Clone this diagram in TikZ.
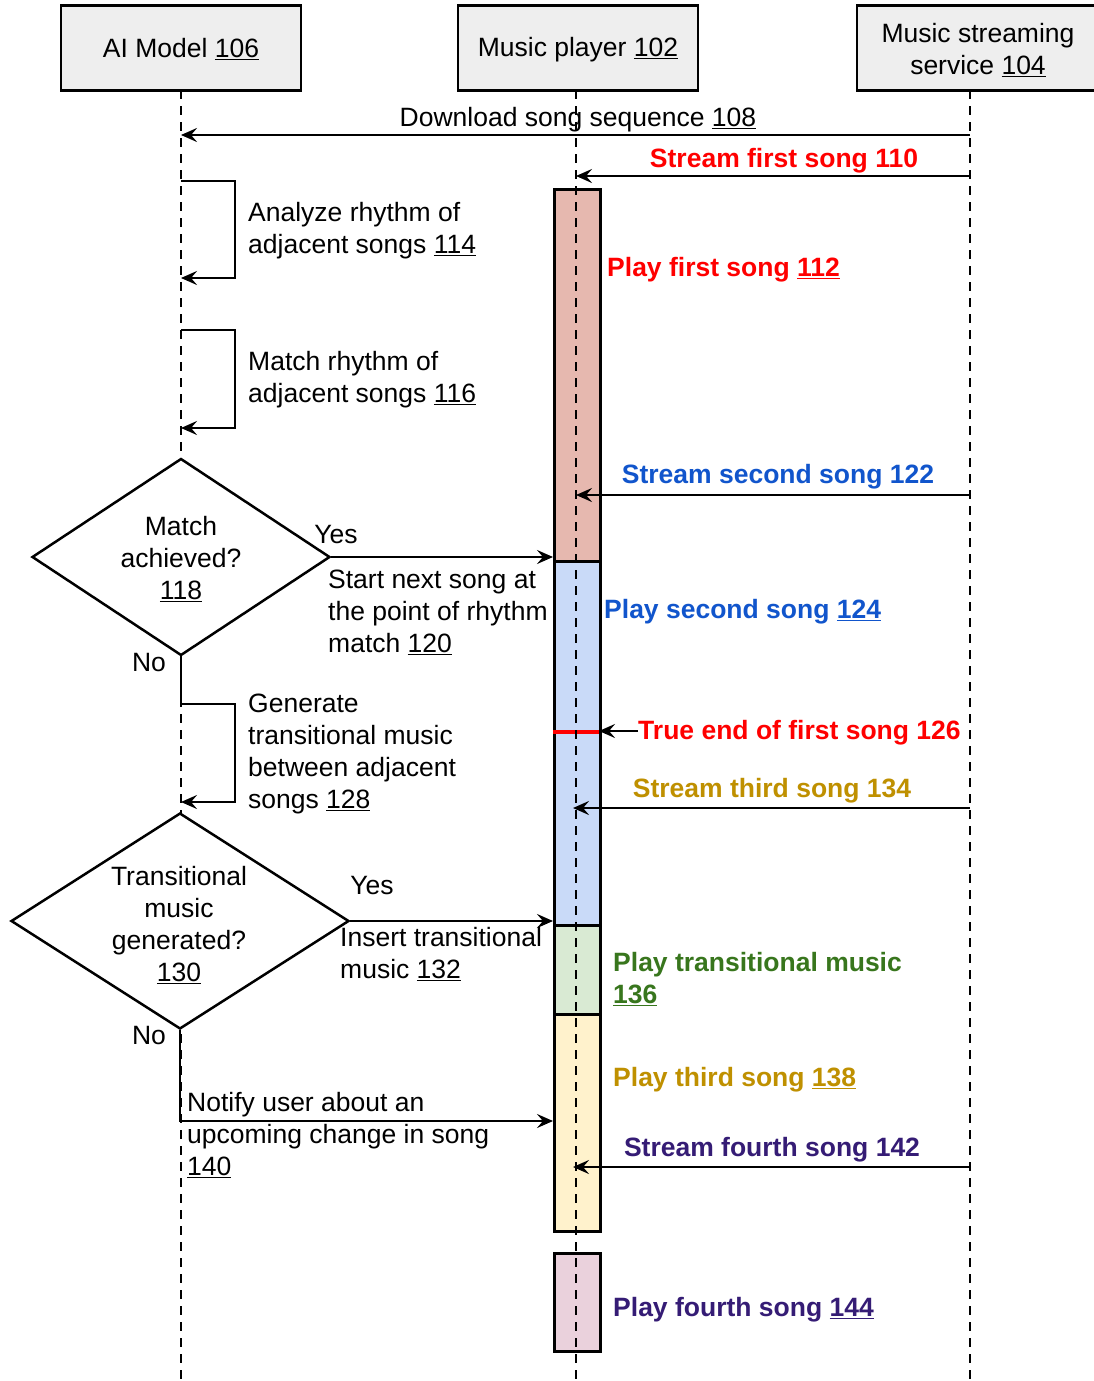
\documentclass[tikz,border=0pt]{standalone}
\usepackage{fontspec}
\setmainfont{Liberation Sans}
\usetikzlibrary{arrows.meta,shapes.geometric}
\definecolor{headgray}{HTML}{EEEEEE}
\definecolor{cred}{HTML}{FF0000}
\definecolor{cblue}{HTML}{1155CC}
\definecolor{cgold}{HTML}{BF9000}
\definecolor{cgreen}{HTML}{38761D}
\definecolor{cpurple}{HTML}{351C75}
\definecolor{barred}{HTML}{E6B8AF}
\definecolor{barblue}{HTML}{C9DAF8}
\definecolor{bargreen}{HTML}{D9EAD3}
\definecolor{baryellow}{HTML}{FFF2CC}
\definecolor{barpink}{HTML}{EAD1DC}
\tikzset{
  head/.style={draw, line width=2.8pt, fill=headgray, minimum width=240, minimum height=85, inner sep=0pt},
  life/.style={line width=2.6pt, dash pattern=on 9pt off 7pt},
  msg/.style={line width=2.6pt, -{Stealth[length=16pt,width=14pt,inset=6pt]}},
  bar/.style={draw, line width=2.5pt},
  dia/.style={diamond, draw, line width=2.5pt, fill=white, inner sep=0pt},
  lbl/.style={inner sep=0pt, align=left, anchor=west},
  clbl/.style={inner sep=0pt, align=center},
  bl/.style={inner sep=0pt, font=\fontsize{26.5pt}{32pt}\selectfont\bfseries},
}
\begin{document}
\begin{tikzpicture}[x=1pt, y=-1pt, font=\fontsize{26.5pt}{32pt}\selectfont]
\clip (0,0) rectangle (1094,1381);
\fill[white] (0,0) rectangle (1094,1381);

% activation bars
\node[bar, fill=barred, minimum width=46, minimum height=372, inner sep=0pt, anchor=north west] (b1) at (553,188) {};
\node[bar, fill=barblue, minimum width=46, minimum height=364, inner sep=0pt, anchor=north west] (b2) at (553,560) {};
\node[bar, fill=bargreen, minimum width=46, minimum height=89, inner sep=0pt, anchor=north west] (b3) at (553,924) {};
\node[bar, fill=baryellow, minimum width=46, minimum height=217, inner sep=0pt, anchor=north west] (b4) at (553,1013) {};
\node[bar, fill=barpink, minimum width=46, minimum height=98, inner sep=0pt, anchor=north west] (b5) at (553,1252) {};
\coordinate (re1) at (553,732);
\coordinate (re2) at (599,732);
\draw[cred, line width=3.5pt] (re1) -- (re2);

% heads
\node[head] (ai) at (181,48) {};
\node[clbl] (aiL) at (181,49) {AI Model \underline{106}};
\node[head] (mp) at (578,48) {};
\node[clbl] (mpL) at (578,50) {Music player \underline{102}};
\node[head, minimum width=242] (ms) at (978,48) {};
\node[clbl] (msL) at (978,50) {Music streaming\\service \underline{104}};

% lifelines
\coordinate (aiT) at (181,90);  \coordinate (aiB) at (181,1390);
\coordinate (mpT) at (576,90);  \coordinate (mpB) at (576,1390);
\coordinate (msT) at (970,90);  \coordinate (msB) at (970,1390);
\draw[life] (aiT) -- (aiB);
\draw[life] (mpT) -- (mpB);
\draw[life] (msT) -- (msB);

% message end points
\coordinate (s108) at (970,135); \coordinate (t108) at (181,135);
\coordinate (s110) at (970,176); \coordinate (t110) at (576,176);
\coordinate (s122) at (970,495); \coordinate (t122) at (576,495);
\coordinate (s134) at (970,808); \coordinate (t134) at (573,808);
\coordinate (s142) at (970,1167); \coordinate (t142) at (573,1167);
\coordinate (s126) at (638,731); \coordinate (t126) at (599,731);

\draw[msg] (s108) -- (t108);
\draw[msg] (s110) -- (t110);
\draw[msg] (s122) -- (t122);
\draw[msg] (s134) -- (t134);
\draw[msg] (s142) -- (t142);
\draw[msg] (s126) -- (t126);

\node[clbl] (l108) at (578,120) {Download song sequence \underline{108}};
\node[bl, text=cred] (l110) at (784,161) {Stream first song 110};
\node[bl, text=cblue] (l122) at (778,477) {Stream second song 122};
\node[bl, text=cgold] (l134) at (772,791) {Stream third song 134};
\node[bl, text=cpurple] (l142) at (772,1150) {Stream fourth song 142};
\node[bl, text=cred, anchor=west] (l126) at (638,733) {True end of first song 126};

% play labels
\node[bl, text=cred, anchor=west] (l112) at (607,270) {Play first song \underline{112}};
\node[bl, text=cblue, anchor=west] (l124) at (604,612) {Play second song \underline{124}};
\node[bl, text=cgreen, anchor=west, align=left] (l136) at (613,979) {Play transitional music\\\underline{136}};
\node[bl, text=cgold, anchor=west] (l138) at (613,1080) {Play third song \underline{138}};
\node[bl, text=cpurple, anchor=west] (l144) at (613,1310) {Play fourth song \underline{144}};

% self loops
\coordinate (a1) at (181,181); \coordinate (a2) at (181,278);
\draw[msg] (a1) -- (235,181) -- (235,278) -- (a2);
\node[lbl] (l114) at (248,231) {Analyze rhythm of\\adjacent songs \underline{114}};
\coordinate (m1) at (181,330); \coordinate (m2) at (181,428);
\draw[msg] (m1) -- (235,330) -- (235,428) -- (m2);
\node[lbl] (l116) at (248,380) {Match rhythm of\\adjacent songs \underline{116}};

% decision 118
\node[dia, minimum width=298, minimum height=197] (d1) at (181,557) {};
\node[clbl] (d1t) at (181,559) {Match\\achieved?\\\underline{118}};
\coordinate (y1) at (553,557);
\draw[msg] (d1.east) -- (y1);
\node[clbl] (yes1) at (336,535) {Yes};
\node[lbl] (l120) at (328,612) {Start next song at\\the point of rhythm\\match \underline{120}};
\node[clbl] (no1) at (149,663) {No};
\coordinate (g1) at (181,802);
\draw[msg] (d1.south) -- (181,704) -- (235,704) -- (235,802) -- (g1);
\node[lbl] (l128) at (248,754) {Generate\\transitional music\\between adjacent\\songs \underline{128}};

% decision 130
\node[dia, minimum width=338, minimum height=216] (d2) at (180,921) {};
\node[clbl] (d2t) at (179,925) {Transitional\\music\\generated?\\\underline{130}};
\coordinate (y2) at (553,921);
\draw[msg] (d2.east) -- (y2);
\node[clbl] (yes2) at (372,886) {Yes};
\node[lbl] (l132) at (340,954) {Insert transitional\\music \underline{132}};
\node[clbl] (no2) at (149,1036) {No};
\coordinate (n1) at (553,1121);
\draw[msg] (d2.south) |- (n1);
\node[lbl] (l140) at (187,1135) {Notify user about an\\upcoming change in song\\\underline{140}};
\end{tikzpicture}
\end{document}
